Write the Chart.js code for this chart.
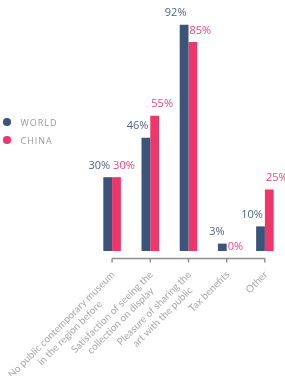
<!DOCTYPE html>
<html>
<head>
<meta charset="utf-8">
<script src="https://cdn.jsdelivr.net/npm/chart.js@4"></script>
<style>
  html, body { margin: 0; padding: 0; background: #fff; }
  #wrap { position: relative; width: 285px; height: 376px; }
  #legend { position: absolute; left: 3px; top: 113px; font-family: "Open Sans"; font-size: 9px; letter-spacing: 1px; color: #999; }
  .item { height: 18px; display: flex; align-items: center; }
  .dot { width: 7.5px; height: 7.5px; border-radius: 50%; margin-right: 10px; }
</style>
</head>
<body>
<div id="wrap">
  <canvas id="bar-chart" width="285" height="376"></canvas>
  <div id="legend"></div>
</div>
<script>
// Data
const categories = [
  ["No public contemporary museum", "in the region before"],
  ["Satisfaction of seeing the", "collection on display"],
  ["Pleasure of sharing the", "art with the public"],
  ["Tax benefits"],
  ["Other"]
];
const seriesNames = ["WORLD", "CHINA"];
const worldValues = [30, 46, 92, 3, 10];
const chinaValues = [30, 55, 85, 0, 25];
const seriesColors = ["#3c5479", "#ef3569"];
const labelColors = ["#4f6588", "#f0457a"];

// html legend on the left
const legendEl = document.getElementById("legend");
seriesNames.forEach((name, i) => {
  const item = document.createElement("div");
  item.className = "item";
  item.innerHTML = '<span class="dot" style="background:' + seriesColors[i] + '"></span>' + name;
  legendEl.appendChild(item);
});

// axis line, rotated category labels and value labels
const decor = {
  id: "decor",
  afterDatasetsDraw(chart) {
    const ctx = chart.ctx;
    const xScale = chart.scales.x;
    const base = chart.chartArea.bottom;
    const axisY = Math.round(base + 7) + 0.5;

    ctx.save();
    ctx.strokeStyle = "#8f8f8f";
    ctx.lineWidth = 1.5;
    ctx.beginPath();
    ctx.moveTo(xScale.getPixelForValue(0), axisY);
    ctx.lineTo(xScale.getPixelForValue(categories.length - 1), axisY);
    categories.forEach((c, i) => {
      const px = xScale.getPixelForValue(i);
      ctx.moveTo(px, axisY);
      ctx.lineTo(px, axisY + 4);
    });
    ctx.stroke();

    // category labels, lines centred, rotated 45deg
    ctx.font = "10px Lato";
    ctx.fillStyle = "#a8a8a8";
    ctx.textAlign = "center";
    ctx.textBaseline = "middle";
    categories.forEach((lines, i) => {
      const px = xScale.getPixelForValue(i);
      const w = Math.max(...lines.map(l => ctx.measureText(l).width));
      ctx.save();
      ctx.translate(px + 1, base + 22);
      ctx.rotate(-Math.PI / 4);
      lines.forEach((l, j) => ctx.fillText(l, -w / 2, j * 12));
      ctx.restore();
    });

    // value labels
    ctx.font = "11px 'Open Sans'";
    chart.data.datasets.forEach((ds, d) => {
      const meta = chart.getDatasetMeta(d);
      ctx.fillStyle = labelColors[d];
      ctx.textAlign = d === 0 ? "right" : "left";
      meta.data.forEach((bar, i) => {
        const p = bar.getProps(["x", "y", "width", "base"], true);
        const tx = d === 0 ? p.x + p.width / 2 - 2 : p.x - p.width / 2 + 1;
        const ty = ds.data[i] === 0 ? p.base - 4 : p.y - 11.5;
        ctx.fillText(ds.data[i] + "%", tx, ty);
      });
    });
    ctx.restore();
  }
};

new Chart(document.getElementById("bar-chart"), {
  type: "bar",
  data: {
    labels: categories,
    datasets: [
      { label: seriesNames[0], data: worldValues, backgroundColor: seriesColors[0] },
      { label: seriesNames[1], data: chinaValues, backgroundColor: seriesColors[1] }
    ]
  },
  options: {
    responsive: false,
    animation: false,
    layout: { padding: { left: 93, right: 1, top: 5, bottom: 0 } },
    datasets: { bar: { categoryPercentage: 0.46, barPercentage: 1 } },
    plugins: {
      legend: { display: false },
      tooltip: { enabled: false }
    },
    scales: {
      x: {
        grid: { display: false },
        border: { display: false },
        ticks: { display: false },
        afterFit: scale => { scale.height = 125; }
      },
      y: { display: false, min: 0, max: 100 }
    }
  },
  plugins: [decor]
});
</script>
</body>
</html>
